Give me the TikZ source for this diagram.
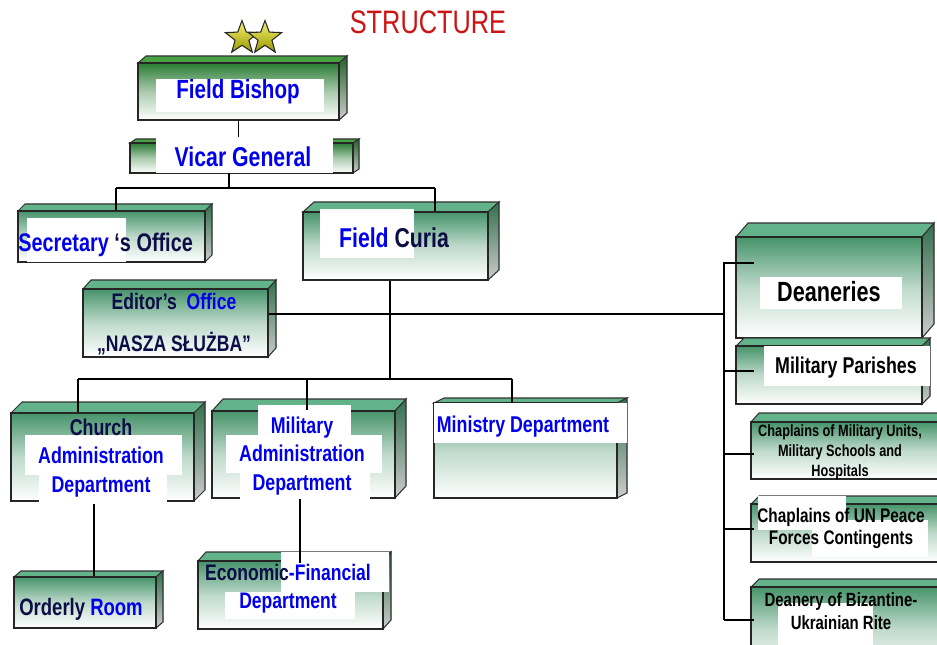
\documentclass[tikz,border=0pt]{standalone}
\usepackage{fontspec}
\newfontfamily\orgfont[FakeStretch=0.78]{Liberation Sans}
\usepackage{xcolor}
\definecolor{titlered}{RGB}{204,20,20}
\definecolor{txtblue}{RGB}{0,0,235}
\definecolor{inkdark}{RGB}{12,12,70}
\definecolor{frontgreen}{RGB}{70,148,106}
\definecolor{topgreen}{RGB}{98,178,138}
\definecolor{sidegreen}{RGB}{50,112,76}
\definecolor{bishopgreen}{RGB}{42,124,52}
\definecolor{bishoptop}{RGB}{72,162,66}
\definecolor{stargold}{RGB}{240,236,50}
\usepackage{tikz}
\usetikzlibrary{fit}
\usetikzlibrary{shapes.geometric}
\newcommand{\shad}[1]{\textcolor{inkdark}{#1}}
\tikzset{
    link/.style={line width=0.7pt},
    heavy/.style={line width=1.4pt},
    gtop/.style={draw=black!80, line width=0.6pt, fill=topgreen},
    gside/.style={draw=black!80, line width=0.6pt, top color=sidegreen, bottom color=black!20},
    gfront/.style={draw=black!85, line width=0.7pt, inner sep=0pt, top color=frontgreen, bottom color=white, middle color=frontgreen!35},
    btop/.style={gtop, fill=bishoptop},
    bside/.style={gside, top color=bishopgreen!80!black},
    bfront/.style={gfront, top color=bishopgreen, middle color=bishopgreen!40},
    bg/.style={fill=white, inner sep=0pt},
    lbl/.style 2 args={font=\orgfont\bfseries\fontsize{#1}{#2}\selectfont, text=txtblue, align=center, inner sep=0pt},
    dark/.style={text=black},
    title/.style={font=\orgfont\fontsize{18.5}{20}\selectfont, text=titlered, inner sep=0pt},
    goldstar/.style={star, star points=5, star point ratio=2.4, minimum size=0.7cm, inner sep=0pt,
        draw=black!85, line width=0.6pt, top color=stargold!70!white, bottom color=olive!80!yellow}
}

\begin{document}
\begin{tikzpicture}[x=0.02cm, y=-0.02cm]

      \newcommand\orgbox[8]{
        \filldraw[#8top] (#2,#3) -- (#2+#6,#3-#7) -- (#4+#6,#3-#7) -- (#4,#3) -- cycle;
        \filldraw[#8side] (#4,#3) -- (#4+#6,#3-#7) -- (#4+#6,#5-#7) -- (#4,#5) -- cycle;
        \node[#8front, fit={(#2,#3) (#4,#5)}] (#1) {};
      }

      \useasboundingbox (0,0) rectangle (937,645);
      \clip (0,0) rectangle (937,645);

      \node[title] (title) at (428,22) {STRUCTURE};

      \orgbox{bishop}{138}{63}{339}{120}{8}{7}{b}
      \orgbox{vicar}{130}{143}{353}{173}{6}{4}{b}
      \orgbox{secr}{18}{211}{205}{262}{7}{7}{g}
      \orgbox{curia}{303}{212}{488}{280}{11}{10}{g}
      \orgbox{editor}{83}{289}{268}{357}{8}{9}{g}
      \orgbox{church}{11}{413}{194}{501}{11}{11}{g}
      \orgbox{milit}{212}{411}{395}{498}{11}{12}{g}
      \orgbox{minis}{434}{403}{617}{498}{10}{5}{g}
      \orgbox{orderly}{14}{577}{156}{628}{7}{6}{g}
      \orgbox{econ}{198}{561}{383}{629}{8}{9}{g}
      \orgbox{dean}{736}{237}{922}{338}{12}{14}{g}
      \orgbox{parish}{736}{346}{922}{404}{8}{8}{g}
      \orgbox{units}{751}{422}{950}{479}{8}{9}{g}
      \orgbox{un}{751}{504}{950}{562}{8}{8}{g}
      \orgbox{biz}{751}{587}{950}{670}{8}{8}{g}

      \path
          node[goldstar] (star-l) at (242,38) {}
          node[goldstar] (star-r) at (265,38) {};

      \node[bg, fit={(156,79) (324,112)}] (bishop-bg) {};
      \node[bg, fit={(156,137) (333,173)}] (vicar-bg) {};
      \node[bg, fit={(27,218) (126,262)}] (secr-bg) {};
      \node[bg, fit={(320,209) (414,258)}] (curia-bg) {};
      \node[bg, fit={(25,435) (182,475)}] (church-bg1) {};
      \node[bg, fit={(39,475) (167,503)}] (church-bg2) {};
      \node[bg, fit={(258,405) (351,435)}] (milit-bg1) {};
      \node[bg, fit={(226,435) (382,473)}] (milit-bg2) {};
      \node[bg, fit={(240,473) (370,500)}] (milit-bg3) {};
      \node[bg, fit={(434,403) (627,443)}] (minis-bg) {};
      \node[bg, fit={(281,552) (389,592)}] (econ-bg1) {};
      \node[bg, fit={(225,592) (355,619)}] (econ-bg2) {};
      \node[bg, fit={(760,277) (902,309)}] (dean-bg) {};
      \node[bg, fit={(764,346) (930,386)}] (parish-bg) {};
      \node[bg, fit={(758,496) (846,530)}] (un-bg1) {};
      \node[bg, fit={(812,520) (928,557)}] (un-bg2) {};
      \node[bg, fit={(778,603) (873,650)}] (biz-bg) {};

      \coordinate (vg-j) at (229,188);
      \coordinate (j-secr) at (116,188);
      \coordinate (j-curia) at (435,188);
      \coordinate (j-dept) at (390,379);
      \coordinate (j-church) at (78,379);
      \coordinate (j-milit) at (307,379);
      \coordinate (j-minis) at (512,379);
      \coordinate (c-ord) at (94,504);
      \coordinate (c-econ) at (300,563);
      \coordinate (j-right) at (724,314);
      \coordinate (r-top) at (724,263);
      \coordinate (r-bot) at (724,620);
      \coordinate (b-dean) at (754,263);
      \coordinate (b-parish) at (754,371);
      \coordinate (b-units) at (754,454);
      \coordinate (b-un) at (754,529);
      \coordinate (b-biz) at (754,620);

      \draw[link] (bishop.south) -- (bishop.south |- vicar-bg.north);
      \draw[link] (vicar-bg.south -| vg-j) -- (vg-j);
      \draw[heavy] (j-secr) -- (j-curia);
      \draw[link] (j-secr) -- (j-secr |- secr.north);
      \draw[link] (j-curia) -- (j-curia |- curia.north);
      \draw[link] (curia.south -| j-dept) -- (j-dept);
      \draw[link] (j-church) -- (j-minis);
      \draw[heavy] (j-church) -- (j-church |- church.north);
      \draw[link] (j-milit) -- (j-milit |- milit.north);
      \draw[link] (j-minis) -- (j-minis |- minis-bg.north);
      \draw[link] (c-ord) -- (c-ord |- orderly.north);
      \draw[link] (c-econ |- milit.south) -- (c-econ);
      \draw[heavy] (j-right -| editor.east) -- (j-right);
      \draw[link] (b-dean) -- (r-top) -- (r-bot);
      \draw[heavy] (r-bot) -- (b-biz);
      \draw[link] (r-top |- b-parish) -- (b-parish);
      \draw[link] (r-top |- b-units) -- (b-units);
      \draw[link] (r-top |- b-un) -- (b-un);

      \node[lbl={15}{17}] (bishop-txt) at (238,92) {Field Bishop};
      \node[lbl={15.5}{17}] (vicar-txt) at (243,157) {Vicar General};
      \node[lbl={14.5}{16}, anchor=west] (secr-txt) at (18,245) {Secretary \shad{‘s Office}};
      \node[lbl={15.5}{17}] (curia-txt) at (394,238) {Field \shad{Curia}};
      \node[lbl={12.8}{24}] (editor-txt) at (174,324) {\shad{Editor’s}~ Office\\\shad{„NASZA SŁUŻBA”}};
      \node[lbl={13}{16.4}] (church-txt) at (101,458) {\shad{Church}\\Administration\\Department};
      \node[lbl={13}{16}] (milit-txt) at (302,456) {Military\\Administration\\Department};
      \node[lbl={13}{15}] (minis-txt) at (523,427) {Ministry Department};
      \node[lbl={13.5}{15}] (orderly-txt) at (81,609) {\shad{Orderly} Room};
      \node[lbl={12.8}{15.9}] (econ-txt) at (288,589) {\shad{Economic}-Financial\\Department};
      \node[lbl={15.8}{17}, dark] (dean-txt) at (829,292) {Deaneries};
      \node[lbl={13}{15}, dark] (parish-txt) at (846,368) {Military Parishes};
      \node[lbl={9.3}{11.3}, dark] (units-txt) at (840,452) {Chaplains of Military Units,\\Military Schools and\\Hospitals};
      \node[lbl={11.2}{13}, dark] (un-txt) at (841,528.5) {Chaplains of UN Peace\\Forces Contingents};
      \node[lbl={10.9}{13}, dark] (biz-txt) at (841,611.5) {Deanery of Bizantine-\\Ukrainian Rite};

\end{tikzpicture}
\end{document}
